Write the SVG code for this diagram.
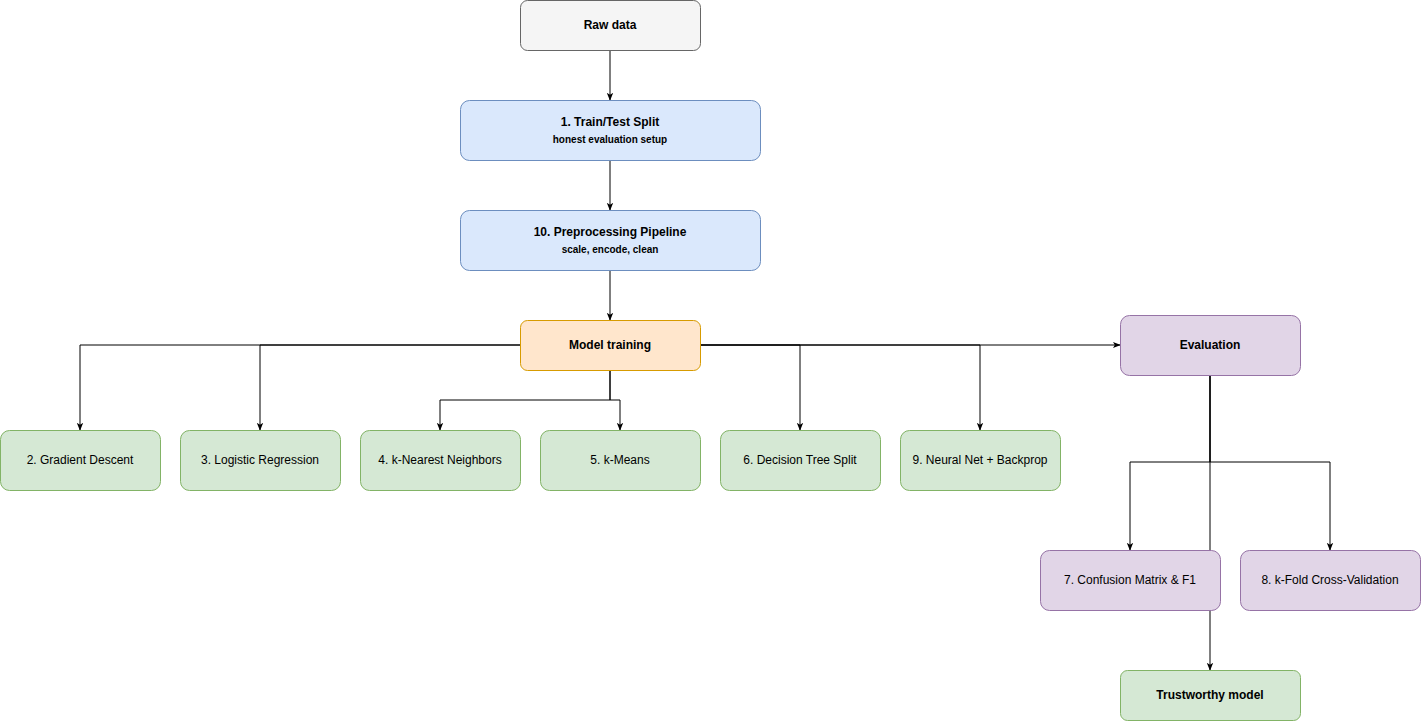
<svg xmlns="http://www.w3.org/2000/svg" width="1421" height="721" viewBox="0 0 1421 721">
<style>
text{font-family:"Liberation Sans",Arial,sans-serif;font-size:12px;fill:#000;text-anchor:middle;dominant-baseline:central}
.b{font-weight:bold}.s{font-size:10px;font-weight:bold}
.gray{fill:#f5f5f5;stroke:#666}.blue{fill:#dae8fc;stroke:#6c8ebf}.org{fill:#ffe6cc;stroke:#d79b00}
.pur{fill:#e1d5e7;stroke:#9673a6}.grn{fill:#d5e8d4;stroke:#82b366}
.e{fill:none;stroke:#000;stroke-width:1;marker-end:url(#a)}
</style>
<defs><marker id="a" viewBox="0 0 10 10" refX="9" refY="5" markerWidth="8" markerHeight="8" orient="auto" markerUnits="userSpaceOnUse"><path d="M0,1 L10,5 L0,9 L2.5,5 Z" fill="#000"/></marker></defs>
<rect width="1421" height="721" fill="#fff"/>
<g id="connectors">
<path class="e" d="M610,50V100"/>
<path class="e" d="M610,160V210"/>
<path class="e" d="M610,270V320"/>
<path class="e" d="M520,345H80V430"/>
<path class="e" d="M520,345H260V430"/>
<path class="e" d="M610,370V400H440V430"/>
<path class="e" d="M610,370V400H620V430"/>
<path class="e" d="M700,345H800V430"/>
<path class="e" d="M700,345H980V430"/>
<path class="e" d="M700,345H1120"/>
<path class="e" d="M1210,375V462H1130V550"/>
<path class="e" d="M1210,375V462H1330V550"/>
<path class="e" d="M1210,375V670"/>
</g>
<g id="raw"><rect class="gray" x="520.5" y="0.5" width="180" height="50" rx="7"/><text class="b" x="610" y="25">Raw data</text></g>
<g id="split"><rect class="blue" x="460.5" y="100.5" width="300" height="60" rx="9"/><text class="b" x="610" y="122">1. Train/Test Split</text><text class="s" x="610" y="139">honest evaluation setup</text></g>
<g id="prep"><rect class="blue" x="460.5" y="210.5" width="300" height="60" rx="9"/><text class="b" x="610" y="232">10. Preprocessing Pipeline</text><text class="s" x="610" y="249">scale, encode, clean</text></g>
<g id="train"><rect class="org" x="520.5" y="320.5" width="180" height="50" rx="7"/><text class="b" x="610" y="345">Model training</text></g>
<g id="eval"><rect class="pur" x="1120.5" y="315.5" width="180" height="60" rx="9"/><text class="b" x="1210" y="345">Evaluation</text></g>
<g id="gd"><rect class="grn" x="0.5" y="430.5" width="160" height="60" rx="9"/><text x="80" y="460">2. Gradient Descent</text></g>
<g id="lr"><rect class="grn" x="180.5" y="430.5" width="160" height="60" rx="9"/><text x="260" y="460">3. Logistic Regression</text></g>
<g id="knn"><rect class="grn" x="360.5" y="430.5" width="160" height="60" rx="9"/><text x="440" y="460">4. k-Nearest Neighbors</text></g>
<g id="km"><rect class="grn" x="540.5" y="430.5" width="160" height="60" rx="9"/><text x="620" y="460">5. k-Means</text></g>
<g id="dt"><rect class="grn" x="720.5" y="430.5" width="160" height="60" rx="9"/><text x="800" y="460">6. Decision Tree Split</text></g>
<g id="nn"><rect class="grn" x="900.5" y="430.5" width="160" height="60" rx="9"/><text x="980" y="460">9. Neural Net + Backprop</text></g>
<g id="cm"><rect class="pur" x="1040.5" y="550.5" width="180" height="60" rx="9"/><text x="1130" y="580">7. Confusion Matrix &amp; F1</text></g>
<g id="kf"><rect class="pur" x="1240.5" y="550.5" width="180" height="60" rx="9"/><text x="1330" y="580">8. k-Fold Cross-Validation</text></g>
<g id="tm"><rect class="grn" x="1120.5" y="670.5" width="180" height="50" rx="7"/><text class="b" x="1210" y="695">Trustworthy model</text></g>
</svg>
